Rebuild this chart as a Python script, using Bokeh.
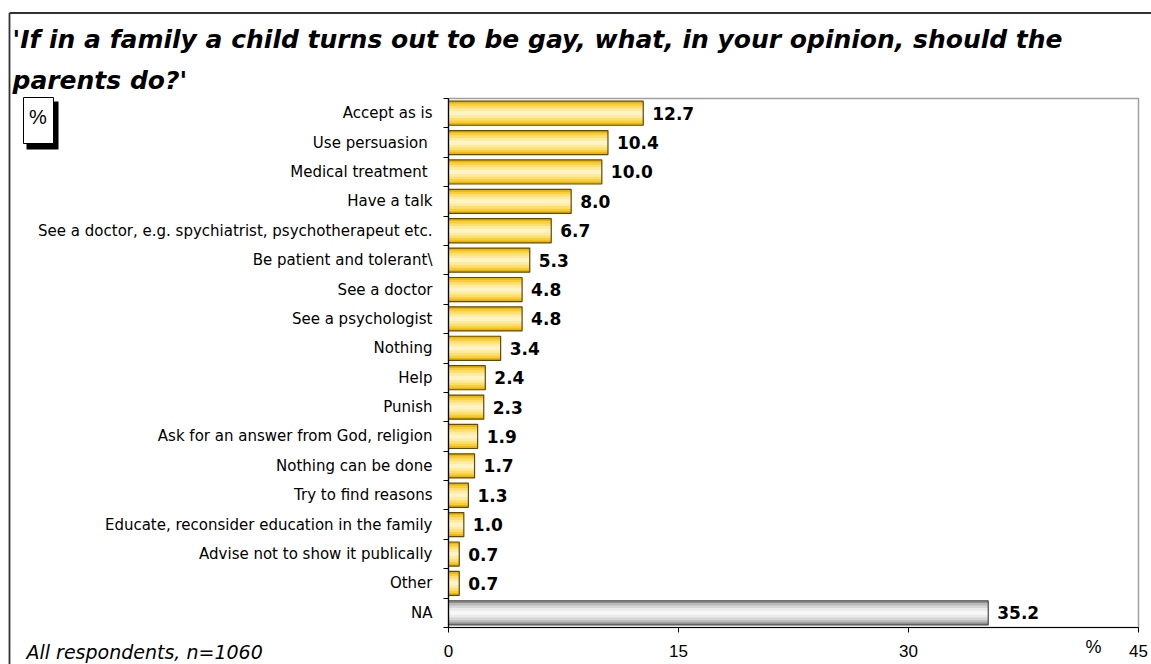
from bokeh.plotting import figure
from bokeh.models import (Range1d, FixedTicker, Label, ColumnDataSource)
from bokeh.core.properties import value
from bokeh.embed import file_html
from bokeh.resources import INLINE

# ---------------- data ----------------
categories = [
    "Accept as is", "Use persuasion ", "Medical treatment ", "Have a talk",
    "See a doctor, e.g. spychiatrist, psychotherapeut etc.", "Be patient and tolerant\\",
    "See a doctor", "See a psychologist", "Nothing", "Help", "Punish",
    "Ask for an answer from God, religion", "Nothing can be done", "Try to find reasons",
    "Educate, reconsider education in the family", "Advise not to show it publically",
    "Other", "NA",
]
values = [12.7, 10.4, 10.0, 8.0, 6.7, 5.3, 4.8, 4.8, 3.4, 2.4, 2.3, 1.9, 1.7, 1.3, 1.0, 0.7, 0.7, 35.2]
x_ticks = [0, 15, 30, 45]
title_lines = ["'If in a family a child turns out to be gay, what, in your opinion, should the",
               "parents do?'"]
note = "All respondents, n=1060"

# ---------------- layout ----------------
W, H = 1151, 664
FL, FR, FT, FB = 448, 1138, 98, 627   # frame edges in pixels
XMAX = 45.0
N = len(categories)

def dx(px):
    return (px - FL) / (FR - FL) * XMAX

def dy(py):
    return (py - FT) / (FB - FT) * N

p = figure(width=W, height=H, output_backend="svg", toolbar_location=None,
           x_range=Range1d(0, XMAX), y_range=Range1d(N, 0),
           min_border_left=FL, min_border_right=W - FR,
           min_border_top=FT, min_border_bottom=H - FB)
p.background_fill_color = "white"
p.border_fill_color = "white"
p.outline_line_color = "#A0A0A0"
p.outline_line_width = 1.5
p.xgrid.visible = False
p.ygrid.visible = False

centers = [i + 0.5 for i in range(N)]
yellow_idx = [i for i in range(N) if categories[i] != "NA"]
gray_idx = [i for i in range(N) if categories[i] == "NA"]

def src(idx):
    return ColumnDataSource(dict(y=[centers[i] for i in idx], v=[values[i] for i in idx],
                                 lab=["%.1f" % values[i] for i in idx]))

ys, gs = src(yellow_idx), src(gray_idx)

yellow_layers = [(0.82, "#EDB600"), (0.66, "#F8CE3A"), (0.5, "#FCDF72"), (0.32, "#FEEBA0"), (0.14, "#FFF4C6")]
gray_layers = [(0.82, "#8E8E8E"), (0.66, "#B8B8B8"), (0.5, "#D6D6D6"), (0.32, "#EBEBEB"), (0.14, "#F8F8F8")]
for s, layers, edge in ((ys, yellow_layers, "#5E4A10"), (gs, gray_layers, "#4A4A4A")):
    for h, c in layers:
        p.hbar(y="y", right="v", left=0, height=h, source=s, fill_color=c, line_color=None)
    p.hbar(y="y", right="v", left=0, height=0.82, source=s, fill_color=None,
           line_color=edge, line_width=1.2)

for s in (ys, gs):
    p.text(x="v", y="y", text="lab", source=s, x_offset=9, text_baseline="middle",
           text_align="left", text_font=value("DejaVu Sans"), text_font_style="bold",
           text_font_size="17px", text_color="black")

yax = p.yaxis[0]
yax.ticker = FixedTicker(ticks=centers, minor_ticks=list(range(N + 1)))
yax.major_label_overrides = {c: categories[i] for i, c in enumerate(centers)}
yax.major_tick_line_color = None
yax.major_tick_out = 0
yax.major_tick_in = 0
yax.minor_tick_out = 5
yax.minor_tick_in = 0
yax.minor_tick_line_color = "black"
yax.axis_line_color = "black"
yax.axis_line_width = 1.2
yax.major_label_standoff = 11
yax.major_label_text_font = "DejaVu Sans"
yax.major_label_text_font_size = "15px"
yax.major_label_text_color = "black"

xax = p.xaxis[0]
xax.ticker = FixedTicker(ticks=x_ticks, minor_ticks=[])
xax.major_tick_out = 5
xax.major_tick_in = 0
xax.major_tick_line_color = "black"
xax.axis_line_color = "black"
xax.axis_line_width = 1.2
xax.major_label_standoff = 12
xax.major_label_text_font = "Liberation Sans"
xax.major_label_text_font_size = "17px"
xax.major_label_text_color = "black"

# --- decorations outside the frame (overlay-level glyphs are not clipped) ---
# outer frame of the picture
p.segment(x0=[dx(9), dx(9)], y0=[dy(12.5), dy(12.5)], x1=[dx(1160), dx(9)], y1=[dy(12.5), dy(680)],
          line_color="#333333", line_width=1.8, level="overlay")
# % box with shadow
p.quad(left=[dx(26)], right=[dx(58)], top=[dy(101)], bottom=[dy(149)],
       fill_color="black", line_color=None, level="overlay")
p.quad(left=[dx(23)], right=[dx(53)], top=[dy(97)], bottom=[dy(143)],
       fill_color="white", line_color="black", line_width=1, level="overlay")
p.text(x=[dx(37.5)], y=[dy(116)], text=["%"], text_align="center", text_baseline="middle",
       text_font=value("Liberation Sans"), text_font_size="20px", text_color="black",
       level="overlay")
# unit sign next to the last x tick
p.text(x=[dx(1093)], y=[dy(646)], text=["%"], text_align="center", text_baseline="middle",
       text_font=value("Liberation Sans"), text_font_size="18px", text_color="black",
       level="overlay")
# footnote
p.text(x=[dx(26)], y=[dy(651)], text=[note], text_align="left", text_baseline="alphabetic",
       text_font=value("DejaVu Sans"), text_font_style="italic", text_font_size="19px",
       text_color="black", level="overlay")

# --- title lines: labels placed in the top side panel (data units) ---
for k, line in enumerate(title_lines):
    p.add_layout(Label(x=dx(12), y=dy(39 + 41 * k), text=line, text_font="DejaVu Sans",
                       text_font_style="bold italic", text_font_size="25px",
                       text_baseline="alphabetic", text_color="black"), "above")

open("out.html", "w").write(file_html(p, INLINE))
